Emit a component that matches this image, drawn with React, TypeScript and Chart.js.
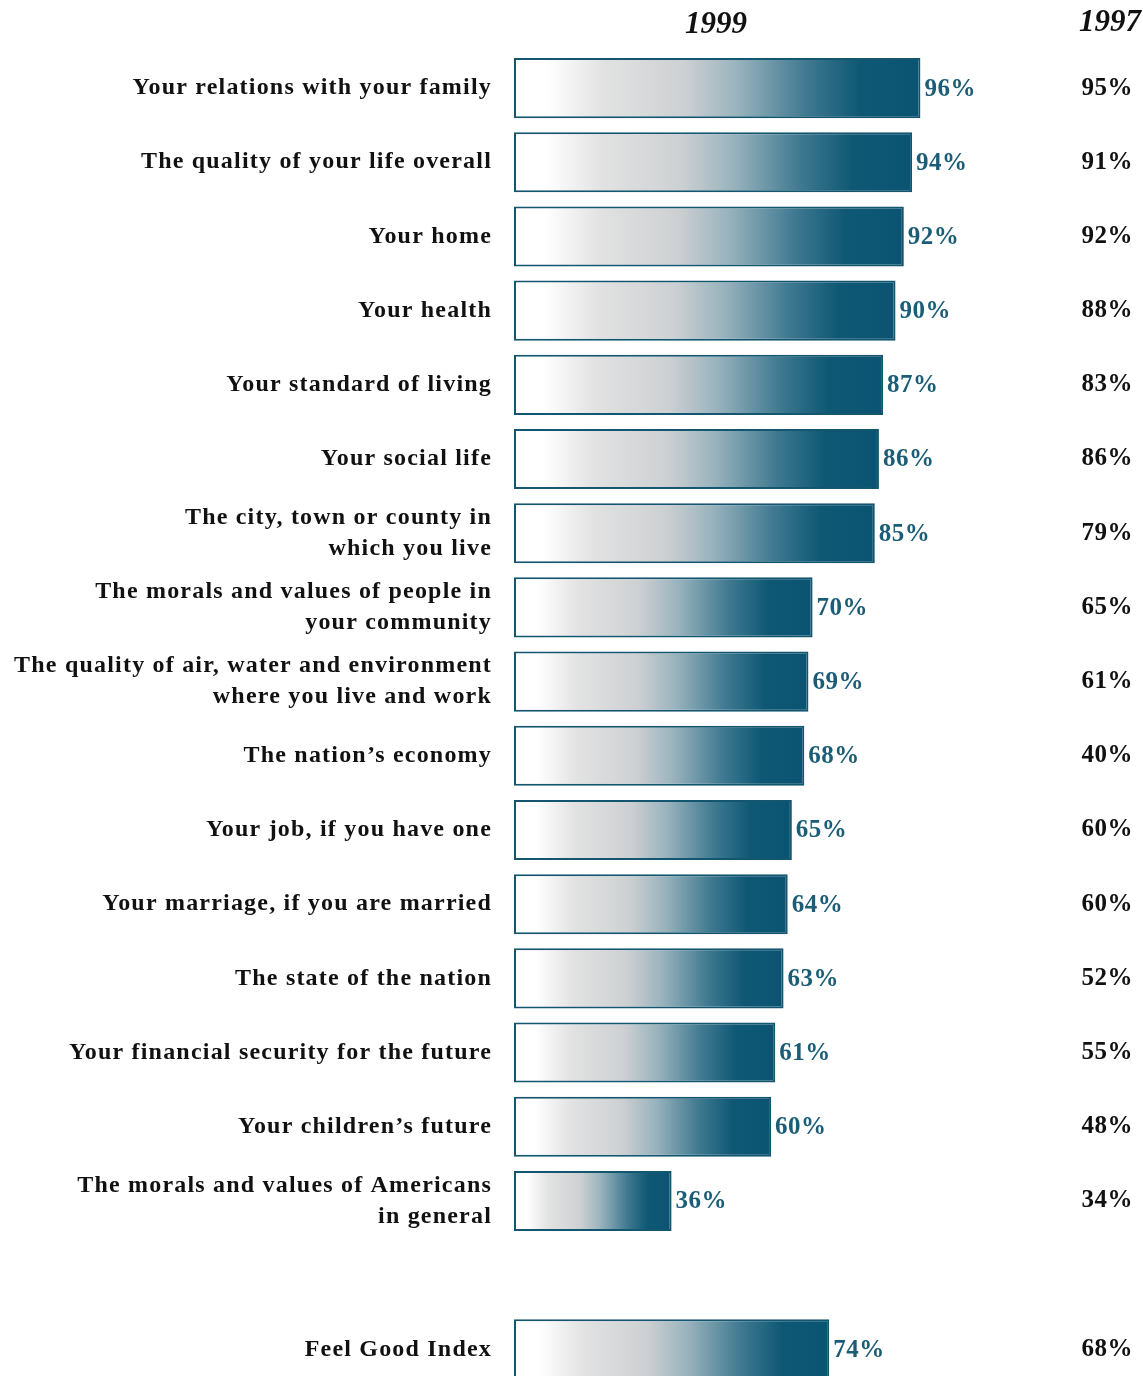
import React, { useEffect, useRef } from "react";
import { Chart, registerables } from "chart.js";

Chart.register(...registerables);

const categories: (string | string[])[] = [
  "Your relations with your family",
  "The quality of your life overall",
  "Your home",
  "Your health",
  "Your standard of living",
  "Your social life",
  ["The city, town or county in", "which you live"],
  ["The morals and values of people in", "your community"],
  ["The quality of air, water and environment", "where you live and work"],
  "The nation\u2019s economy",
  "Your job, if you have one",
  "Your marriage, if you are married",
  "The state of the nation",
  "Your financial security for the future",
  "Your children\u2019s future",
  ["The morals and values of Americans", "in general"],
];
const values1999: number[] = [96, 94, 92, 90, 87, 86, 85, 70, 69, 68, 65, 64, 63, 61, 60, 36];
const values1997: number[] = [95, 91, 92, 88, 83, 86, 79, 65, 61, 40, 60, 60, 52, 55, 48, 34];

const indexLabel = "Feel Good Index";
const index1999 = 74;
const index1997 = 68;

const headerNew = "1999";
const headerOld = "1997";

const TEAL = "#0b5573";
const TEXT_TEAL = "#1b5d77";
const SERIF = "'Liberation Serif', 'DejaVu Serif', serif";

export default function App() {
  const ref = useRef<HTMLCanvasElement | null>(null);

  useEffect(() => {
    document.body.style.margin = "0";
    const canvas = ref.current;
    if (!canvas) return;

    const labels = [...categories, "", indexLabel];
    const data1999: (number | null)[] = [...values1999, null, index1999];
    const data1997: (number | null)[] = [...values1997, null, index1997];

    const labelsPlugin = {
      id: "labelsPlugin",
      beforeDraw(chart: any) {
        chart.ctx.letterSpacing = "1.2px";
      },
      afterDatasetsDraw(chart: any) {
        const ctx = chart.ctx as CanvasRenderingContext2D;
        const meta = chart.getDatasetMeta(0);
        ctx.save();
        (ctx as any).letterSpacing = "0.5px";
        ctx.textBaseline = "middle";
        meta.data.forEach((el: any, i: number) => {
          const v = data1999[i];
          if (v == null) return;
          ctx.font = `bold 25px ${SERIF}`;
          ctx.fillStyle = TEXT_TEAL;
          ctx.textAlign = "left";
          ctx.fillText(`${v}%`, el.x + 4, el.y + 1);
          const o = data1997[i];
          if (o != null) {
            ctx.fillStyle = "#111";
            ctx.textAlign = "right";
            ctx.fillText(`${o}%`, 1133, el.y);
          }
        });
        (ctx as any).letterSpacing = "0px";
        ctx.font = `italic bold 31px ${SERIF}`;
        ctx.fillStyle = "#111";
        ctx.textAlign = "center";
        ctx.fillText(headerNew, 716, 25);
        ctx.textAlign = "right";
        ctx.fillText(headerOld, 1141, 23);
        ctx.restore();
      },
    };

    const chart = new Chart(canvas, {
      type: "bar",
      data: {
        labels,
        datasets: [
          {
            data: data1999,
            base: -2,
            backgroundColor: (c: any) => {
              const ch = c.chart;
              if (!ch.chartArea || c.raw == null) return TEAL;
              const xs = ch.scales.x;
              const x0 = xs.getPixelForValue(-2);
              const x1 = xs.getPixelForValue(c.raw);
              const g = ch.ctx.createLinearGradient(x0, 0, x1, 0);
              g.addColorStop(0, "#ffffff");
              g.addColorStop(0.08, "#ffffff");
              g.addColorStop(0.22, "#e2e2e2");
              g.addColorStop(0.42, "#cdd0d2");
              g.addColorStop(0.55, "#99b3bd");
              g.addColorStop(0.72, "#3f7990");
              g.addColorStop(0.85, "#0f5874");
              g.addColorStop(1, "#0a5473");
              return g;
            },
            borderColor: "#14566f",
            borderWidth: 2,
            borderSkipped: false,
            barPercentage: 0.81,
            categoryPercentage: 1,
          },
        ],
      },
      options: {
        indexAxis: "y",
        animation: false,
        responsive: false,
        devicePixelRatio: 1,
        layout: { padding: { top: 51, bottom: 12, left: 0, right: 206 } },
        plugins: { legend: { display: false }, tooltip: { enabled: false } },
        scales: {
          x: { display: false, min: -2, max: 100 },
          y: {
            grid: { display: false, drawTicks: false },
            border: { display: false },
            afterFit: (s: any) => {
              s.width = 514;
            },
            ticks: {
              padding: 22,
              color: "#111",
              font: { family: SERIF, size: 24, weight: "bold", lineHeight: 1.3 },
              autoSkip: false,
            },
          },
        },
      },
      plugins: [labelsPlugin],
    } as any);

    return () => chart.destroy();
  }, []);

  return (
    <div style={{ width: 1143, height: 1424 }}>
      <canvas ref={ref} width={1143} height={1424} style={{ display: "block" }} />
    </div>
  );
}
